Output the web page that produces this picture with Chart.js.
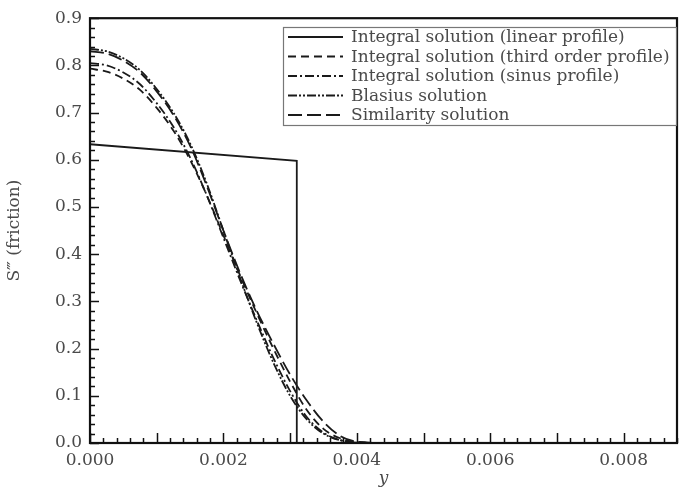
<!DOCTYPE html>
<html>
<head>
<meta charset="utf-8">
<script src="https://cdn.jsdelivr.net/npm/chart.js@4"></script>
<style>
  html, body { margin: 0; padding: 0; background: #fff; overflow: hidden; }
  canvas { display: block; }
</style>
</head>
<body>
<canvas id="chart" width="681" height="491"></canvas>
<script>
// y positions (same for all smooth curves)
const yPos = [0, 0.00025, 0.0005, 0.00075, 0.001, 0.00125, 0.0015, 0.00175, 0.002, 0.00225,
              0.0025, 0.00275, 0.003, 0.00325, 0.0035, 0.00375, 0.004, 0.0045, 0.005, 0.0055,
              0.006, 0.0065, 0.007];

const thirdOrder = [0.793, 0.787, 0.772, 0.748, 0.71, 0.662, 0.60, 0.525, 0.44, 0.355,
                    0.275, 0.20, 0.13, 0.07, 0.03, 0.01, 0.002, 0, 0, 0, 0, 0, 0];
const sinusProfile = [0.805, 0.80, 0.785, 0.76, 0.72, 0.67, 0.605, 0.525, 0.435, 0.345,
                      0.26, 0.18, 0.11, 0.055, 0.022, 0.006, 0.001, 0, 0, 0, 0, 0, 0];
const blasius = [0.835, 0.83, 0.815, 0.79, 0.75, 0.70, 0.635, 0.55, 0.45, 0.35,
                 0.255, 0.17, 0.10, 0.05, 0.02, 0.006, 0.001, 0, 0, 0, 0, 0, 0];
const similarity = [0.83, 0.825, 0.81, 0.785, 0.745, 0.695, 0.63, 0.545, 0.45, 0.36,
                    0.28, 0.21, 0.145, 0.09, 0.045, 0.015, 0.003, 0, 0, 0, 0, 0, 0];

// linear profile: straight line then drop to zero
const linearY = [0, 0.0031, 0.0031];
const linearS = [0.633, 0.598, 0];

const labels = [
    "Integral solution (linear profile)",
    "Integral solution (third order profile)",
    "Integral solution (sinus profile)",
    "Blasius solution",
    "Similarity solution"
];

const xTicks = [0, 0.002, 0.004, 0.006, 0.008];
const yTicks = [0, 0.1, 0.2, 0.3, 0.4, 0.5, 0.6, 0.7, 0.8, 0.9];

const textColor = "#4a4a4a";
const lineColor = "#1a1a1a";
const fontName = "'DejaVu Serif', serif";

function toPoints(xs, ys) {
    return xs.map((x, i) => ({ x: x, y: ys[i] }));
}

function makeSet(label, xs, ys, dash) {
    return {
        label: label,
        data: toPoints(xs, ys),
        borderColor: lineColor,
        borderWidth: 1.8,
        borderDash: dash,
        pointRadius: 0,
        fill: false,
        cubicInterpolationMode: "monotone"
    };
}

// frame + inward ticks
const frameTicks = {
    id: "frameTicks",
    afterDraw(chart) {
        const ctx = chart.ctx;
        const a = chart.chartArea;
        const sx = chart.scales.x;
        const sy = chart.scales.y;
        ctx.save();
        ctx.strokeStyle = "#111";
        ctx.lineWidth = 1.5;
        // x ticks
        for (let i = 0; i <= 44; i++) {
            const v = i * 0.0002;
            const px = Math.round(sx.getPixelForValue(v)) + 0.5;
            const len = (i % 5 === 0) ? 10 : 5;
            ctx.beginPath();
            ctx.moveTo(px, a.bottom);
            ctx.lineTo(px, a.bottom - len);
            ctx.stroke();
        }
        // y ticks
        for (let i = 0; i <= 45; i++) {
            const v = i * 0.02;
            const py = Math.round(sy.getPixelForValue(v)) + 0.5;
            const len = (i % 5 === 0) ? 9 : 5;
            ctx.beginPath();
            ctx.moveTo(a.left, py);
            ctx.lineTo(a.left + len, py);
            ctx.stroke();
        }
        ctx.lineWidth = 2.2;
        ctx.strokeRect(a.left, a.top, a.right - a.left, a.bottom - a.top);
        ctx.restore();
    }
};

// legend box inside the plot
const legendBox = {
    id: "legendBox",
    afterDraw(chart) {
        const ctx = chart.ctx;
        const boxL = 283, boxT = 27, boxR = 676, boxB = 125;
        ctx.save();
        ctx.fillStyle = "#fff";
        ctx.fillRect(boxL, boxT, boxR - boxL, boxB - boxT);
        ctx.strokeStyle = "#777";
        ctx.lineWidth = 1.2;
        ctx.strokeRect(boxL + 0.5, boxT + 0.5, boxR - boxL, boxB - boxT);
        chart.data.datasets.forEach((ds, i) => {
            const y = 37 + i * 19.5;
            ctx.strokeStyle = lineColor;
            ctx.lineWidth = 2;
            ctx.setLineDash(ds.borderDash || []);
            ctx.beginPath();
            ctx.moveTo(288, y);
            ctx.lineTo(343, y);
            ctx.stroke();
            ctx.setLineDash([]);
            ctx.fillStyle = textColor;
            ctx.font = "17px " + fontName;
            ctx.textBaseline = "middle";
            ctx.fillText(ds.label, 351, y + 1);
        });
        ctx.restore();
    }
};

new Chart(document.getElementById("chart"), {
    type: "line",
    data: {
        datasets: [
            Object.assign(makeSet(labels[0], linearY, linearS, []), { cubicInterpolationMode: "default", tension: 0 }),
            makeSet(labels[1], yPos, thirdOrder, [8, 5]),
            makeSet(labels[2], yPos, sinusProfile, [9, 3, 2, 3]),
            makeSet(labels[3], yPos, blasius, [9, 2, 2, 2, 2, 2]),
            makeSet(labels[4], yPos, similarity, [14, 5])
        ]
    },
    options: {
        responsive: false,
        animation: false,
        devicePixelRatio: 1,
        layout: { padding: { top: 18, right: 4, left: 4, bottom: 0 } },
        plugins: { legend: { display: false }, tooltip: { enabled: false } },
        scales: {
            x: {
                type: "linear",
                min: 0,
                max: 0.0088,
                grid: { display: false, drawTicks: false },
                border: { display: false },
                afterBuildTicks: s => { s.ticks = xTicks.map(v => ({ value: v })); },
                afterFit: s => { s.height = 48; },
                ticks: {
                    color: textColor,
                    font: { family: fontName, size: 17 },
                    padding: 7,
                    maxRotation: 0,
                    callback: v => Number(v).toFixed(3)
                },
                title: {
                    display: true,
                    text: "y",
                    color: textColor,
                    font: { family: fontName, size: 17, style: "italic" },
                    padding: { top: 0, bottom: 2 }
                }
            },
            y: {
                type: "linear",
                min: 0,
                max: 0.9,
                grid: { display: false, drawTicks: false },
                border: { display: false },
                afterBuildTicks: s => { s.ticks = yTicks.map(v => ({ value: v })); },
                afterFit: s => { s.width = 86; },
                ticks: {
                    color: textColor,
                    font: { family: fontName, size: 17 },
                    padding: 8,
                    callback: v => Number(v).toFixed(1)
                },
                title: {
                    display: true,
                    text: "S\u2034 (friction)",
                    color: textColor,
                    font: { family: fontName, size: 17 },
                    padding: { top: 0, bottom: 0 }
                }
            }
        }
    },
    plugins: [frameTicks, legendBox]
});
</script>
</body>
</html>
